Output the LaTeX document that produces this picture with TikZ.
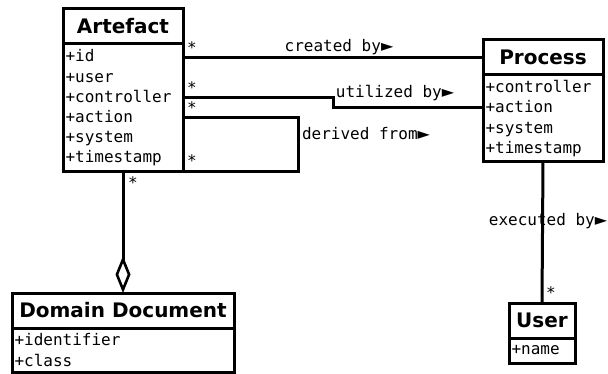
\documentclass[tikz,border=0pt]{standalone}
\usepackage{fontspec}
\usetikzlibrary{arrows.meta}
\newfontfamily\umlmono{DejaVu Sans Mono}
\newfontfamily\umlsans{DejaVu Sans}
\newcommand{\rdir}{{\umlsans\char"25BA}}
\tikzset{
  umltitle/.style={draw, line width=3pt, rectangle, outer sep=0pt, minimum height=35pt,
    font=\umlsans\bfseries\fontsize{20}{24}\selectfont},
  umlattr/.style={draw, line width=3pt, rectangle, outer sep=0pt, anchor=north,
    inner xsep=2.5pt, inner ysep=0pt, align=left, font=\umlmono\fontsize{16}{20.2}\selectfont},
  umlline/.style={line width=3pt},
  umllabel/.style={inner sep=0pt, font=\umlmono\fontsize{16}{19}\selectfont},
  umlstar/.style={inner sep=0pt, anchor=north, font=\umlmono\fontsize{16}{19}\selectfont}
}

\begin{document}
\begin{tikzpicture}[x=1pt, y=-1pt]
\useasboundingbox (0,0) rectangle (608,374);

% classes
\node[umltitle, minimum width=120pt] (artefact title) at (123,26.5) {Artefact};
\node[umlattr, text width=115pt, minimum height=128pt] (artefact attr) at (artefact title.south)
  {+id\\+user\\+controller\\+action\\+system\\+timestamp};

\node[umltitle, minimum width=120pt] (process title) at (543,57.5) {Process};
\node[umlattr, text width=115pt, minimum height=87pt] (process attr) at (process title.south)
  {+controller\\+action\\+system\\+timestamp};

\node[umltitle, minimum width=222pt] (domain title) at (123,310.5) {Domain Document};
\node[umlattr, text width=217pt, minimum height=44pt] (domain attr) at (domain title.south)
  {+identifier\\+class};

\node[umltitle, minimum width=66pt] (user title) at (542,320.5) {User};
\node[umlattr, text width=61pt, minimum height=25pt] (user attr) at (user title.south) {+name};

% associations
\coordinate (util bend) at (333,108);
\coordinate (derived bend) at (298,172);

\draw[umlline] (artefact attr.east |- process title.west) -- (process title.west);
\draw[umlline] (artefact attr.east) ++(0,-10) -| (util bend) -- (process attr.west |- util bend);
\draw[umlline] (artefact attr.east) ++(0,10) -| (derived bend) -- (artefact attr.south east);
\draw[umlline, -{Diamond[open, length=37pt, width=15pt, line width=2.6pt]}]
  (artefact attr.south) -- (domain title.north);
\draw[umlline] (process attr.south) -- (user title.north);

\node[umllabel] (created) at (339,47.5) {created by\rdir};
\node[umllabel] (utilized) at (395,93) {utilized by\rdir};
\node[umllabel] (derived) at (366,134) {derived from\rdir};
\node[umllabel] (executed) at (548,221) {executed by\rdir};

\node[umlstar] (star1) at (192,41.5) {*};
\node[umlstar] (star2) at (192,81.5) {*};
\node[umlstar] (star3) at (192,101.5) {*};
\node[umlstar] (star4) at (192,154.5) {*};
\node[umlstar] (star5) at (133,176.5) {*};
\node[umlstar] (star6) at (551,286.5) {*};

\end{tikzpicture}
\end{document}
